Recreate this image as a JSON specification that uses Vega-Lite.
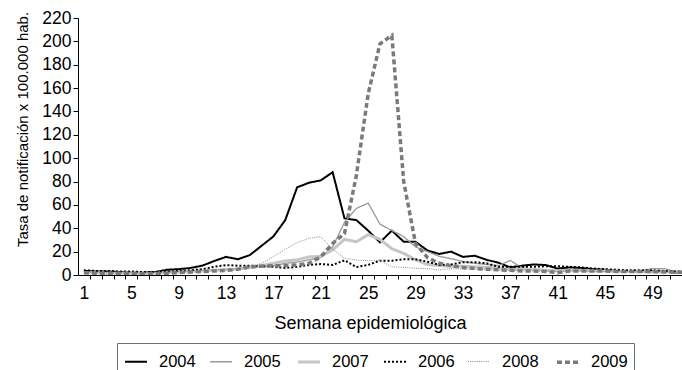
{
  "$schema": "https://vega.github.io/schema/vega-lite/v6.json",
  "width": 604,
  "height": 257,
  "autosize": {"type": "none"},
  "padding": {"left": 78, "top": 18, "right": 0, "bottom": 95},
  "config": {
    "view": {"stroke": null},
    "font": "Liberation Sans",
    "axis": {
      "domainColor": "#000000",
      "tickColor": "#000000",
      "labelColor": "#000000",
      "titleColor": "#000000",
      "domainWidth": 1,
      "tickWidth": 1,
      "tickSize": 5,
      "grid": false,
      "titleFontWeight": "normal",
      "labelFont": "Liberation Sans",
      "titleFont": "Liberation Sans"
    },
    "legend": {
      "orient": "none",
      "legendX": 39,
      "legendY": 325,
      "direction": "horizontal",
      "columns": 6,
      "padding": 6,
      "strokeColor": "#707070",
      "fillColor": "#ffffff",
      "symbolType": "stroke",
      "symbolSize": 484,
      "labelFontSize": 16.5,
      "labelColor": "#000000",
      "labelFont": "Liberation Sans",
      "labelOffset": 10,
      "columnPadding": 11
    }
  },
  "data": {
    "values": [
      {"year":"2004","week":1,"rate":3.5},{"year":"2004","week":2,"rate":3},{"year":"2004","week":3,"rate":3},{"year":"2004","week":4,"rate":2.5},
      {"year":"2004","week":5,"rate":2},{"year":"2004","week":6,"rate":2},{"year":"2004","week":7,"rate":2.5},{"year":"2004","week":8,"rate":4.5},
      {"year":"2004","week":9,"rate":5},{"year":"2004","week":10,"rate":6},{"year":"2004","week":11,"rate":8},{"year":"2004","week":12,"rate":12},
      {"year":"2004","week":13,"rate":15.5},{"year":"2004","week":14,"rate":13.5},{"year":"2004","week":15,"rate":17},{"year":"2004","week":16,"rate":25},
      {"year":"2004","week":17,"rate":33},{"year":"2004","week":18,"rate":47},{"year":"2004","week":19,"rate":75},{"year":"2004","week":20,"rate":79},
      {"year":"2004","week":21,"rate":81},{"year":"2004","week":22,"rate":88},{"year":"2004","week":23,"rate":48.5},{"year":"2004","week":24,"rate":47},
      {"year":"2004","week":25,"rate":38},{"year":"2004","week":26,"rate":28},{"year":"2004","week":27,"rate":38},{"year":"2004","week":28,"rate":28.5},
      {"year":"2004","week":29,"rate":28.5},{"year":"2004","week":30,"rate":21},{"year":"2004","week":31,"rate":18},{"year":"2004","week":32,"rate":20},
      {"year":"2004","week":33,"rate":15.5},{"year":"2004","week":34,"rate":16.5},{"year":"2004","week":35,"rate":13},{"year":"2004","week":36,"rate":10.5},
      {"year":"2004","week":37,"rate":6.5},{"year":"2004","week":38,"rate":8},{"year":"2004","week":39,"rate":9},{"year":"2004","week":40,"rate":8.5},
      {"year":"2004","week":41,"rate":5.5},{"year":"2004","week":42,"rate":6.5},{"year":"2004","week":43,"rate":6},{"year":"2004","week":44,"rate":5},
      {"year":"2004","week":45,"rate":4.5},{"year":"2004","week":46,"rate":3.5},{"year":"2004","week":47,"rate":3.5},{"year":"2004","week":48,"rate":3.5},
      {"year":"2004","week":49,"rate":3.5},{"year":"2004","week":50,"rate":3},{"year":"2004","week":51,"rate":2},{"year":"2004","week":52,"rate":2},

      {"year":"2005","week":1,"rate":2.5},{"year":"2005","week":2,"rate":2.5},{"year":"2005","week":3,"rate":2},{"year":"2005","week":4,"rate":2},
      {"year":"2005","week":5,"rate":1.5},{"year":"2005","week":6,"rate":1.5},{"year":"2005","week":7,"rate":1.5},{"year":"2005","week":8,"rate":2},
      {"year":"2005","week":9,"rate":2.5},{"year":"2005","week":10,"rate":3},{"year":"2005","week":11,"rate":3.5},{"year":"2005","week":12,"rate":4},
      {"year":"2005","week":13,"rate":4.5},{"year":"2005","week":14,"rate":5},{"year":"2005","week":15,"rate":6},{"year":"2005","week":16,"rate":7},
      {"year":"2005","week":17,"rate":8},{"year":"2005","week":18,"rate":10},{"year":"2005","week":19,"rate":11},{"year":"2005","week":20,"rate":13},
      {"year":"2005","week":21,"rate":15},{"year":"2005","week":22,"rate":24},{"year":"2005","week":23,"rate":45},{"year":"2005","week":24,"rate":57},
      {"year":"2005","week":25,"rate":61.5},{"year":"2005","week":26,"rate":43.5},{"year":"2005","week":27,"rate":38},{"year":"2005","week":28,"rate":33},
      {"year":"2005","week":29,"rate":24},{"year":"2005","week":30,"rate":20},{"year":"2005","week":31,"rate":16},{"year":"2005","week":32,"rate":14},
      {"year":"2005","week":33,"rate":11.5},{"year":"2005","week":34,"rate":10},{"year":"2005","week":35,"rate":9},{"year":"2005","week":36,"rate":8},
      {"year":"2005","week":37,"rate":12.5},{"year":"2005","week":38,"rate":6},{"year":"2005","week":39,"rate":5},{"year":"2005","week":40,"rate":4.5},
      {"year":"2005","week":41,"rate":4},{"year":"2005","week":42,"rate":4.5},{"year":"2005","week":43,"rate":4.5},{"year":"2005","week":44,"rate":4},
      {"year":"2005","week":45,"rate":4},{"year":"2005","week":46,"rate":3.5},{"year":"2005","week":47,"rate":3.5},{"year":"2005","week":48,"rate":3.5},
      {"year":"2005","week":49,"rate":5.5},{"year":"2005","week":50,"rate":5.5},{"year":"2005","week":51,"rate":3},{"year":"2005","week":52,"rate":2.5},

      {"year":"2007","week":1,"rate":2},{"year":"2007","week":2,"rate":2},{"year":"2007","week":3,"rate":1.5},{"year":"2007","week":4,"rate":1.5},
      {"year":"2007","week":5,"rate":1.5},{"year":"2007","week":6,"rate":1},{"year":"2007","week":7,"rate":1.5},{"year":"2007","week":8,"rate":2},
      {"year":"2007","week":9,"rate":2.5},{"year":"2007","week":10,"rate":3},{"year":"2007","week":11,"rate":3.5},{"year":"2007","week":12,"rate":4},
      {"year":"2007","week":13,"rate":4.5},{"year":"2007","week":14,"rate":5},{"year":"2007","week":15,"rate":6.5},{"year":"2007","week":16,"rate":8},
      {"year":"2007","week":17,"rate":10},{"year":"2007","week":18,"rate":12},{"year":"2007","week":19,"rate":13},{"year":"2007","week":20,"rate":15.5},
      {"year":"2007","week":21,"rate":16},{"year":"2007","week":22,"rate":21.5},{"year":"2007","week":23,"rate":30.5},{"year":"2007","week":24,"rate":28.5},
      {"year":"2007","week":25,"rate":34.5},{"year":"2007","week":26,"rate":30.5},{"year":"2007","week":27,"rate":22.5},{"year":"2007","week":28,"rate":18.5},
      {"year":"2007","week":29,"rate":13},{"year":"2007","week":30,"rate":9},{"year":"2007","week":31,"rate":8},{"year":"2007","week":32,"rate":7.5},
      {"year":"2007","week":33,"rate":7.5},{"year":"2007","week":34,"rate":7},{"year":"2007","week":35,"rate":6.5},{"year":"2007","week":36,"rate":6},
      {"year":"2007","week":37,"rate":5},{"year":"2007","week":38,"rate":5},{"year":"2007","week":39,"rate":4.5},{"year":"2007","week":40,"rate":4},
      {"year":"2007","week":41,"rate":3.5},{"year":"2007","week":42,"rate":4},{"year":"2007","week":43,"rate":4},{"year":"2007","week":44,"rate":3.5},
      {"year":"2007","week":45,"rate":3.5},{"year":"2007","week":46,"rate":3},{"year":"2007","week":47,"rate":3},{"year":"2007","week":48,"rate":3},
      {"year":"2007","week":49,"rate":2.5},{"year":"2007","week":50,"rate":3},{"year":"2007","week":51,"rate":2.5},{"year":"2007","week":52,"rate":2},

      {"year":"2006","week":1,"rate":4},{"year":"2006","week":2,"rate":3.5},{"year":"2006","week":3,"rate":3.5},{"year":"2006","week":4,"rate":3},
      {"year":"2006","week":5,"rate":3},{"year":"2006","week":6,"rate":2.5},{"year":"2006","week":7,"rate":2.5},{"year":"2006","week":8,"rate":3},
      {"year":"2006","week":9,"rate":3.5},{"year":"2006","week":10,"rate":4},{"year":"2006","week":11,"rate":5},{"year":"2006","week":12,"rate":7},
      {"year":"2006","week":13,"rate":8.5},{"year":"2006","week":14,"rate":8},{"year":"2006","week":15,"rate":8},{"year":"2006","week":16,"rate":7.5},
      {"year":"2006","week":17,"rate":7},{"year":"2006","week":18,"rate":6},{"year":"2006","week":19,"rate":7},{"year":"2006","week":20,"rate":8.6},
      {"year":"2006","week":21,"rate":9.4},{"year":"2006","week":22,"rate":8.6},{"year":"2006","week":23,"rate":12.5},{"year":"2006","week":24,"rate":6.8},
      {"year":"2006","week":25,"rate":8.6},{"year":"2006","week":26,"rate":12.3},{"year":"2006","week":27,"rate":12.3},{"year":"2006","week":28,"rate":13.4},
      {"year":"2006","week":29,"rate":13.4},{"year":"2006","week":30,"rate":11.4},{"year":"2006","week":31,"rate":8.6},{"year":"2006","week":32,"rate":9},
      {"year":"2006","week":33,"rate":11},{"year":"2006","week":34,"rate":11},{"year":"2006","week":35,"rate":10},{"year":"2006","week":36,"rate":7},
      {"year":"2006","week":37,"rate":7},{"year":"2006","week":38,"rate":7},{"year":"2006","week":39,"rate":7},{"year":"2006","week":40,"rate":7.5},
      {"year":"2006","week":41,"rate":7.5},{"year":"2006","week":42,"rate":7},{"year":"2006","week":43,"rate":6.5},{"year":"2006","week":44,"rate":5.5},
      {"year":"2006","week":45,"rate":5},{"year":"2006","week":46,"rate":4.5},{"year":"2006","week":47,"rate":4},{"year":"2006","week":48,"rate":4},
      {"year":"2006","week":49,"rate":4},{"year":"2006","week":50,"rate":3.5},{"year":"2006","week":51,"rate":3},{"year":"2006","week":52,"rate":3},

      {"year":"2008","week":1,"rate":2},{"year":"2008","week":2,"rate":2},{"year":"2008","week":3,"rate":2},{"year":"2008","week":4,"rate":1.5},
      {"year":"2008","week":5,"rate":1.5},{"year":"2008","week":6,"rate":1.5},{"year":"2008","week":7,"rate":2},{"year":"2008","week":8,"rate":2.5},
      {"year":"2008","week":9,"rate":3},{"year":"2008","week":10,"rate":3.5},{"year":"2008","week":11,"rate":4},{"year":"2008","week":12,"rate":4.5},
      {"year":"2008","week":13,"rate":5},{"year":"2008","week":14,"rate":5.5},{"year":"2008","week":15,"rate":6.5},{"year":"2008","week":16,"rate":10},
      {"year":"2008","week":17,"rate":15.7},{"year":"2008","week":18,"rate":22},{"year":"2008","week":19,"rate":27.7},{"year":"2008","week":20,"rate":31.4},
      {"year":"2008","week":21,"rate":32.8},{"year":"2008","week":22,"rate":22},{"year":"2008","week":23,"rate":14.3},{"year":"2008","week":24,"rate":12.8},
      {"year":"2008","week":25,"rate":12.3},{"year":"2008","week":26,"rate":12.5},{"year":"2008","week":27,"rate":7},{"year":"2008","week":28,"rate":6.6},
      {"year":"2008","week":29,"rate":5.7},{"year":"2008","week":30,"rate":5.5},{"year":"2008","week":31,"rate":4.3},{"year":"2008","week":32,"rate":5.5},
      {"year":"2008","week":33,"rate":5},{"year":"2008","week":34,"rate":5},{"year":"2008","week":35,"rate":4.5},{"year":"2008","week":36,"rate":4},
      {"year":"2008","week":37,"rate":4},{"year":"2008","week":38,"rate":3.5},{"year":"2008","week":39,"rate":3.5},{"year":"2008","week":40,"rate":3.5},
      {"year":"2008","week":41,"rate":3},{"year":"2008","week":42,"rate":3.5},{"year":"2008","week":43,"rate":3.5},{"year":"2008","week":44,"rate":3},
      {"year":"2008","week":45,"rate":3},{"year":"2008","week":46,"rate":3},{"year":"2008","week":47,"rate":3},{"year":"2008","week":48,"rate":2.5},
      {"year":"2008","week":49,"rate":2.5},{"year":"2008","week":50,"rate":2.5},{"year":"2008","week":51,"rate":2},{"year":"2008","week":52,"rate":2},

      {"year":"2009","week":1,"rate":2},{"year":"2009","week":2,"rate":1.5},{"year":"2009","week":3,"rate":1.5},{"year":"2009","week":4,"rate":1.5},
      {"year":"2009","week":5,"rate":1.5},{"year":"2009","week":6,"rate":1},{"year":"2009","week":7,"rate":1},{"year":"2009","week":8,"rate":1.5},
      {"year":"2009","week":9,"rate":2},{"year":"2009","week":10,"rate":2.5},{"year":"2009","week":11,"rate":3},{"year":"2009","week":12,"rate":3.5},
      {"year":"2009","week":13,"rate":4},{"year":"2009","week":14,"rate":5},{"year":"2009","week":15,"rate":7},{"year":"2009","week":16,"rate":7.5},
      {"year":"2009","week":17,"rate":8},{"year":"2009","week":18,"rate":8},{"year":"2009","week":19,"rate":8.5},{"year":"2009","week":20,"rate":10},
      {"year":"2009","week":21,"rate":15.5},{"year":"2009","week":22,"rate":27},{"year":"2009","week":23,"rate":35.5},{"year":"2009","week":24,"rate":85},
      {"year":"2009","week":25,"rate":155},{"year":"2009","week":26,"rate":198},{"year":"2009","week":27,"rate":205},{"year":"2009","week":28,"rate":80},
      {"year":"2009","week":29,"rate":27},{"year":"2009","week":30,"rate":15},{"year":"2009","week":31,"rate":10},{"year":"2009","week":32,"rate":8},
      {"year":"2009","week":33,"rate":6.5},{"year":"2009","week":34,"rate":5.5},{"year":"2009","week":35,"rate":5},{"year":"2009","week":36,"rate":4.5},
      {"year":"2009","week":37,"rate":4},{"year":"2009","week":38,"rate":3.5},{"year":"2009","week":39,"rate":3.5},{"year":"2009","week":40,"rate":3},
      {"year":"2009","week":41,"rate":2},{"year":"2009","week":42,"rate":3.5},{"year":"2009","week":43,"rate":3.5},{"year":"2009","week":44,"rate":3.5},
      {"year":"2009","week":45,"rate":3.5},{"year":"2009","week":46,"rate":3},{"year":"2009","week":47,"rate":3},{"year":"2009","week":48,"rate":3},
      {"year":"2009","week":49,"rate":3},{"year":"2009","week":50,"rate":2.5},{"year":"2009","week":51,"rate":2.5},{"year":"2009","week":52,"rate":2}
    ]
  },
  "mark": {"type": "line", "clip": true},
  "encoding": {
    "x": {
      "field": "week",
      "type": "quantitative",
      "scale": {"domain": [0.5, 51.5], "nice": false, "zero": false},
      "axis": {
        "values": [1.5,2.5,3.5,4.5,5.5,6.5,7.5,8.5,9.5,10.5,11.5,12.5,13.5,14.5,15.5,16.5,17.5,18.5,19.5,20.5,21.5,22.5,23.5,24.5,25.5,26.5,27.5,28.5,29.5,30.5,31.5,32.5,33.5,34.5,35.5,36.5,37.5,38.5,39.5,40.5,41.5,42.5,43.5,44.5,45.5,46.5,47.5,48.5,49.5,50.5,51.5],
        "labelExpr": "(datum.value - 1.5) % 4 == 0 ? format(datum.value - 0.5, 'd') : ''",
        "labelOffset": -5.92,
        "labelFlush": false,
        "labelOverlap": false,
        "labelBound": false,
        "labelFontSize": 17.5,
        "labelPadding": 5,
        "tickSize": 4,
        "title": "Semana epidemiológica",
        "titleFontSize": 18,
        "titleX": 292,
        "titleY": 53,
        "titleAlign": "center",
        "titleBaseline": "alphabetic"
      }
    },
    "y": {
      "field": "rate",
      "type": "quantitative",
      "scale": {"domain": [0, 220], "nice": false},
      "axis": {
        "values": [0,20,40,60,80,100,120,140,160,180,200,220],
        "labelFontSize": 17.5,
        "labelPadding": 2,
        "tickSize": 5,
        "title": "Tasa de notificación x 100.000 hab.",
        "titleFontSize": 15,
        "titleAngle": -90,
        "titleX": -56,
        "titleY": 111,
        "titleAlign": "center",
        "titleBaseline": "middle"
      }
    },
    "stroke": {
      "field": "year",
      "type": "nominal",
      "scale": {
        "type": "ordinal",
        "domain": ["2004","2005","2007","2006","2008","2009"],
        "range": ["#000000","#9a9a9a","#c6c6c6","#000000","#8a8a8a","#7a7a7a"]
      },
      "legend": {"title": null}
    },
    "strokeDash": {
      "field": "year",
      "type": "nominal",
      "scale": {
        "type": "ordinal",
        "domain": ["2004","2005","2007","2006","2008","2009"],
        "range": [[1,0],[1,0],[1,0],[2,2],[1,1.2],[5,3]]
      },
      "legend": {"title": null}
    },
    "strokeWidth": {
      "field": "year",
      "type": "nominal",
      "scale": {
        "type": "ordinal",
        "domain": ["2004","2005","2007","2006","2008","2009"],
        "range": [2, 1.3, 3, 2, 1, 3.5]
      },
      "legend": {"title": null}
    }
  }
}
